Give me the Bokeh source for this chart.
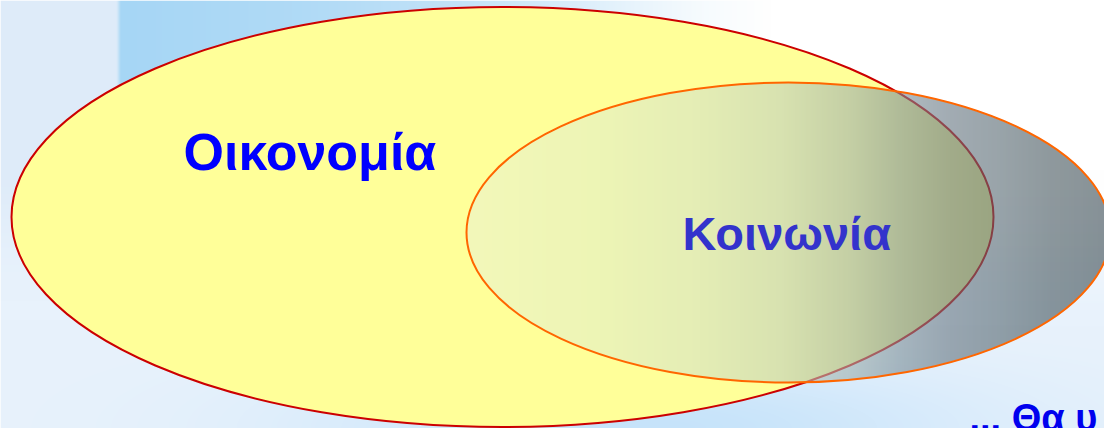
import numpy as np
from bokeh.plotting import figure
from bokeh.models import Range1d
from bokeh.core.properties import value
from bokeh.embed import file_html
from bokeh.resources import INLINE

# ---- data (reference pixel coordinates, y measured from the top) ----
set_names = ["Οικονομία", "Κοινωνία"]
ellipse_cx = [502.0, 788.0]
ellipse_cy = [216.5, 232.0]
ellipse_w = [982.0, 644.0]
ellipse_h = [420.0, 300.0]
label_x = [183.0, 682.0]
label_y = [151.0, 233.0]
caption_text = ["... Θα υ"]
caption_x = [969.0]
caption_y = [417.0]

W, H = 1104, 428


def up(y):
    return H - np.asarray(y, dtype=float)


def smoothstep(e0, e1, x):
    t = np.clip((x - e0) / (e1 - e0), 0.0, 1.0)
    return t * t * (3 - 2 * t)


def to_rgba(col, alpha):
    arr = np.empty(col.shape[:2] + (4,), dtype=np.uint8)
    arr[..., :3] = np.clip(col, 0, 255).astype(np.uint8)
    arr[..., 3] = np.clip(alpha * 255, 0, 255).astype(np.uint8)
    return arr.view(dtype=np.uint32).reshape(col.shape[:2])


p = figure(width=W, height=H, output_backend="svg", toolbar_location=None,
           x_range=Range1d(0, W), y_range=Range1d(0, H),
           x_axis_type=None, y_axis_type=None, min_border=0,
           background_fill_color="white", border_fill_color="white",
           outline_line_color=None)
p.grid.visible = False

# ---- slide background (soft blue light) ----
xs = np.arange(W) + 0.5
ys_ref = H - (np.arange(H) + 0.5)          # row 0 is the bottom row
XX, YY = np.meshgrid(xs, ys_ref)
bg = np.full((H, W, 3), 255.0)


def blend(base, color, w):
    w = w[..., None]
    return base * (1 - w) + np.array(color, dtype=float) * w


left_w = 1 - smoothstep(350, 720, XX)
bottom_w = smoothstep(170, 330, YY)
bg = blend(bg, (232, 242, 252), np.maximum(left_w, bottom_w))
strip_w = (1 - smoothstep(114, 120, XX)) * (1 - smoothstep(150, 300, YY))
bg = blend(bg, (222, 235, 249), strip_w)
hfade = np.interp(XX, [118, 300, 450, 550, 700, 770], [1, 0.85, 0.6, 0.4, 0.1, 0])
col_w = smoothstep(115, 121, XX) * hfade * (1 - smoothstep(175, 270, YY))
bg = blend(bg, (166, 214, 245), col_w)
glow_w = 0.8 * smoothstep(320, 428, YY) * np.exp(-((XX - 650) / 330) ** 2)
bg = blend(bg, (190, 224, 250), glow_w)
p.image_rgba(image=[to_rgba(bg, np.ones((H, W)))], x=0, y=0, dw=W, dh=H)

# ---- Οικονομία ellipse ----
p.ellipse(x=[ellipse_cx[0]], y=up([ellipse_cy[0]]), width=[ellipse_w[0]], height=[ellipse_h[0]],
          fill_color="#ffff99", line_color="#cc0000", line_width=2)

# ---- Κοινωνία ellipse: horizontal translucent gradient ----
cx, cy = ellipse_cx[1], ellipse_cy[1]
a, b = ellipse_w[1] / 2, ellipse_h[1] / 2
x0, x1 = int(cx - a - 3), int(cx + a + 3)
y0, y1 = int(cy - b - 3), int(cy + b + 3)     # ref coords (top-down)
gx = np.arange(x0, x1) + 0.5
gy_ref = y1 - (np.arange(y1 - y0) + 0.5)
GX, GY = np.meshgrid(gx, gy_ref)
u = (GX - cx) / a
v = (GY - cy) / b
q = u * u + v * v
grad = np.sqrt((2 * u / a) ** 2 + (2 * v / b) ** 2) + 1e-9
mask = np.clip(0.5 - (q - 1) / grad, 0, 1)
stops_x = [465, 600, 700, 780, 850, 900, 950, 1000, 1050, 1112]
stops_c = np.array([(235, 243, 207), (225, 238, 200), (210, 225, 200), (190, 207, 192),
                    (157, 175, 173), (123, 142, 152), (100, 116, 128), (85, 103, 112),
                    (68, 85, 92), (55, 72, 80)], dtype=float)
gcol = np.stack([np.interp(GX, stops_x, stops_c[:, k]) for k in range(3)], axis=-1)
p.image_rgba(image=[to_rgba(gcol, 0.6 * mask)], x=x0, y=H - y1, dw=x1 - x0, dh=y1 - y0)
p.ellipse(x=[cx], y=up([cy]), width=[ellipse_w[1]], height=[ellipse_h[1]],
          fill_color=None, line_color="#ff6600", line_width=2)

# ---- labels ----
p.text(x=[label_x[0]], y=up([label_y[0]]), text=[set_names[0]], text_color="#0000ff",
       text_font=value("Liberation Sans"), text_font_style="bold", text_font_size="52px",
       text_baseline="alphabetic", text_align="left")
p.text(x=[label_x[1]], y=up([label_y[1]]), text=[set_names[1]], text_color="#3333cc",
       text_font=value("Liberation Sans"), text_font_style="bold", text_font_size="47px",
       text_baseline="alphabetic", text_align="left")
p.text(x=caption_x, y=up(caption_y), text=caption_text, text_color="#0000ee",
       text_font=value("Liberation Sans"), text_font_style="bold", text_font_size="38px",
       text_baseline="alphabetic", text_align="left")

open("out.html", "w").write(file_html(p, INLINE))
